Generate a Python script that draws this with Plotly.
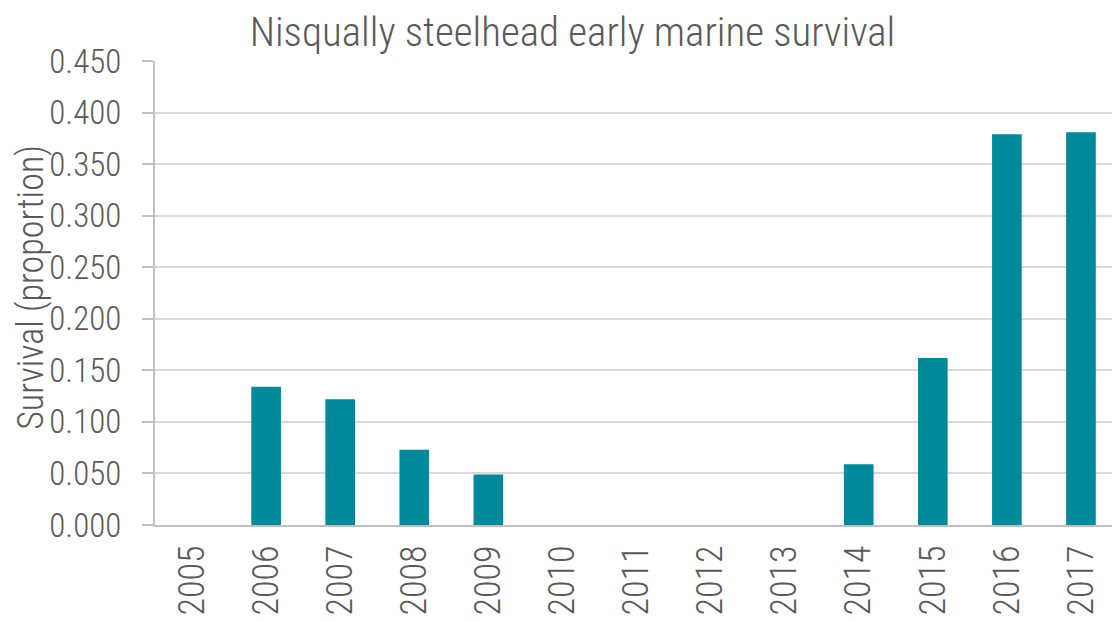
import plotly.graph_objects as go

# Nisqually steelhead early marine survival, by release year
years = ['2005', '2006', '2007', '2008', '2009', '2010', '2011',
         '2012', '2013', '2014', '2015', '2016', '2017']
survival = [None, 0.134, 0.122, 0.073, 0.049, None, None,
            None, None, 0.059, 0.162, 0.379, 0.381]

y_ticks = [0.0, 0.05, 0.10, 0.15, 0.20, 0.25, 0.30, 0.35, 0.40, 0.45]

font_family = 'Roboto Condensed, Roboto, sans-serif'
text_color = '#595959'

fig = go.Figure()
fig.add_trace(
    go.Bar(
        x=years,
        y=survival,
        marker_color='#008998',
        marker_line_width=0,
        hovertemplate="Year: %{x}<br>Survival: %{y:.3f}<extra></extra>"
    )
)

# y-axis title placed as an annotation so the tick label standoff doesn't collide
fig.add_annotation(
    text='Survival (proportion)',
    xref='paper', yref='paper',
    x=-0.129, y=0.513,
    xanchor='center', yanchor='middle',
    textangle=-90,
    showarrow=False,
    font=dict(size=36, color=text_color, family=font_family, weight=300)
)

fig.update_layout(
    title={
        'text': 'Nisqually steelhead early marine survival',
        'x': 0.504,
        'xanchor': 'center',
        'y': 0.962,
        'yanchor': 'middle',
        'font': {'size': 41, 'color': text_color, 'family': font_family, 'weight': 300}
    },
    width=1120,
    height=621,
    margin=dict(l=147, r=10, t=53, b=104),
    plot_bgcolor='white',
    paper_bgcolor='white',
    bargap=0.6,
    showlegend=False,
    font=dict(family=font_family, size=34, color=text_color, weight=300),
    xaxis=dict(
        type='category',
        tickangle=-90,
        showgrid=False,
        showline=True,
        linecolor='#bfbfbf',
        linewidth=2,
        ticks='',
        ticklen=0,
        ticklabelstandoff=4,
        automargin=False,
        tickfont=dict(size=36, color=text_color, weight=300),
    ),
    yaxis=dict(
        range=[0, 0.45],
        tickvals=y_ticks,
        tickformat='.3f',
        showgrid=True,
        gridcolor='#d9d9d9',
        gridwidth=2,
        showline=True,
        linecolor='#bfbfbf',
        linewidth=2,
        ticks='outside',
        ticklen=11,
        tickcolor='#bfbfbf',
        tickwidth=2,
        ticklabelstandoff=14,
        zeroline=False,
        automargin=False,
        tickfont=dict(size=33, color=text_color, weight=300),
    ),
)

fig.write_html("out.html")
